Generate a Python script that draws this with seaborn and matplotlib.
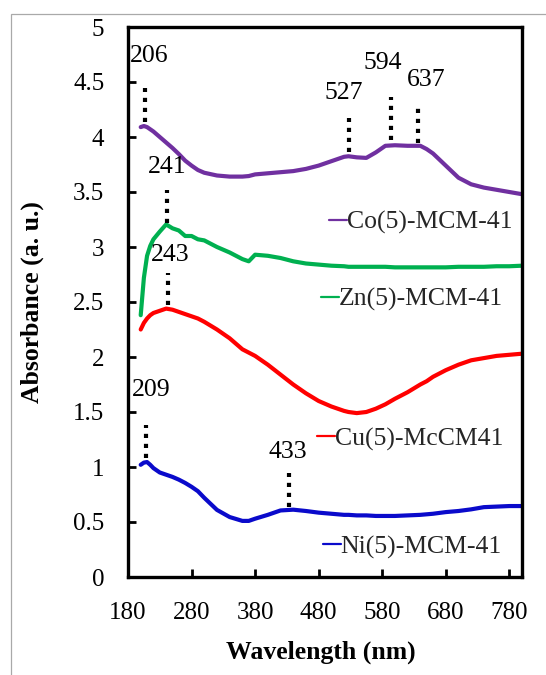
import matplotlib
matplotlib.use("Agg")
import matplotlib.pyplot as plt
from matplotlib.lines import Line2D
from matplotlib.legend import Legend
from matplotlib.patches import Rectangle
import pandas as pd
import seaborn as sns

# ---- data -------------------------------------------------------------
wavelength = [200, 205, 210, 215, 220, 230, 240, 250, 260, 270, 280, 290, 300,
              320, 340, 360, 370, 380, 400, 420, 440, 460, 480, 500, 520, 527,
              540, 555, 570, 585, 600, 620, 640, 650, 660, 680, 700, 720, 740,
              760, 780, 800]

co = [4.09, 4.10, 4.09, 4.07, 4.05, 4.00, 3.95, 3.90, 3.845, 3.785, 3.74, 3.70, 3.675,
      3.65, 3.64, 3.64, 3.645, 3.66, 3.67, 3.68, 3.69, 3.71, 3.74, 3.78, 3.82, 3.825,
      3.815, 3.81, 3.86, 3.92, 3.925, 3.92, 3.92, 3.89, 3.85, 3.74, 3.63, 3.57, 3.54,
      3.52, 3.50, 3.48]

zn = [2.38, 2.72, 2.92, 3.01, 3.07, 3.14, 3.205, 3.17, 3.15, 3.10, 3.10, 3.07, 3.06,
      3.00, 2.95, 2.89, 2.87, 2.93, 2.92, 2.90, 2.87, 2.85, 2.84, 2.83, 2.825, 2.82,
      2.82, 2.82, 2.82, 2.82, 2.815, 2.815, 2.815, 2.815, 2.815, 2.815, 2.82, 2.82, 2.82,
      2.825, 2.825, 2.83]

cu = [2.25, 2.31, 2.35, 2.38, 2.40, 2.42, 2.44, 2.43, 2.41, 2.39, 2.37, 2.35, 2.32,
      2.25, 2.17, 2.07, 2.04, 2.01, 1.93, 1.84, 1.75, 1.67, 1.60, 1.55, 1.51, 1.50,
      1.49, 1.50, 1.53, 1.57, 1.62, 1.68, 1.75, 1.78, 1.82, 1.88, 1.93, 1.97, 1.99,
      2.01, 2.02, 2.03]

ni = [1.02, 1.04, 1.045, 1.02, 0.99, 0.95, 0.93, 0.91, 0.885, 0.855, 0.82, 0.78, 0.72,
      0.61, 0.545, 0.51, 0.51, 0.53, 0.565, 0.605, 0.612, 0.60, 0.585, 0.575, 0.565, 0.565,
      0.56, 0.56, 0.555, 0.555, 0.555, 0.56, 0.565, 0.57, 0.575, 0.59, 0.60, 0.615, 0.635,
      0.64, 0.645, 0.645]

samples = ["Co(5)-MCM-41", "Zn(5)-MCM-41", "Cu(5)-McCM41", "Ni(5)-MCM-41"]
colors = ["#7030A0", "#00B050", "#FF0000", "#0A0ACB"]

# peak positions (nm) marked with dotted lines
peak_nm = [206, 527, 594, 637, 241, 243, 209, 433]

xticks = [180, 280, 380, 480, 580, 680, 780]
yticks = [0, 0.5, 1, 1.5, 2, 2.5, 3, 3.5, 4, 4.5, 5]

# ---- layout of peak markers: (line top, line bottom, label y, label x shift)
peak_layout = [
    (4.45, 4.14, 4.74, 7),
    (4.17, 3.86, 4.40, -8),
    (4.36, 3.97, 4.67, -13),
    (4.26, 3.95, 4.52, 13),
    (3.52, 3.22, 3.73, 0),
    (2.76, 2.47, 2.93, 3),
    (1.38, 1.08, 1.70, 8),
    (0.95, 0.64, 1.14, -2),
]

# series key positions (axes fraction of the right edge of the text, centre y)
key_pos = [(0.977, 0.645), (0.952, 0.505), (0.952, 0.251), (0.949, 0.0545)]

# ---- figure ------------------------------------------------------------
sns.set_theme(style="ticks")
plt.rcParams["font.family"] = ["Liberation Serif", "DejaVu Serif"]

W, H = 546, 675
fig = plt.figure(figsize=(W / 100, H / 100), dpi=100)
fig.patch.set_facecolor("white")
ax = fig.add_axes([128 / W, 98 / H, 394 / W, 550 / H])

# thin grey frame around the chart area
fig.patches.append(Rectangle((10.5 / W, -0.05), 1.2, (H - 13.5) / H + 0.05,
                             transform=fig.transFigure, fill=False,
                             edgecolor="#a9a9a9", lw=0.9, zorder=0))

df = pd.concat([
    pd.DataFrame({"wavelength": wavelength, "absorbance": vals, "sample": name})
    for name, vals in zip(samples, [co, zn, cu, ni])
], ignore_index=True)

sns.lineplot(data=df, x="wavelength", y="absorbance", hue="sample",
             hue_order=samples, palette=dict(zip(samples, colors)),
             linewidth=3.0, legend=False, sort=False, estimator=None, ax=ax)

for line in ax.get_lines():
    line.set_solid_capstyle("round")
    line.set_solid_joinstyle("round")

# dotted peak markers and their labels
for nm, (ytop, ybot, ylab, dx) in zip(peak_nm, peak_layout):
    ax.vlines(nm, ybot, ytop, colors="black", linewidth=3.0,
              linestyles=(0, (1.0, 1.4)), zorder=3)
    ax.text(nm + dx, ylab, str(nm), ha="center", va="center",
            fontsize=18.5, color="black")

# one key per series, placed next to its curve
for name, col, (kx, ky) in zip(samples, colors, key_pos):
    handle = Line2D([], [], color=col, lw=1.6)
    leg = Legend(ax, [handle], [name], loc="center right",
                 bbox_to_anchor=(kx, ky), frameon=False, fontsize=18.5,
                 handlelength=0.7, handletextpad=0.0, borderpad=0,
                 borderaxespad=0)
    ax.add_artist(leg)

ax.set_xlim(180, 800)
ax.set_ylim(0, 5)
ax.set_xticks(xticks)
ax.set_yticks(yticks)
ax.set_xticklabels([str(t) for t in xticks])
ax.set_yticklabels([f"{t:g}" for t in yticks])

for side in ["left", "right", "top", "bottom"]:
    ax.spines[side].set_visible(True)
    ax.spines[side].set_color("black")
    ax.spines[side].set_linewidth(2.4)

ax.tick_params(axis="both", which="major", direction="in", length=6, width=2,
               color="black", labelcolor="black", labelsize=18,
               left=True, bottom=True, right=False, top=False)
ax.tick_params(axis="y", pad=17)
ax.tick_params(axis="x", pad=18)

ax.set_xlabel("Wavelength (nm)", fontsize=18.5, fontweight="bold", color="black")
ax.set_ylabel("Absorbance (a. u.)", fontsize=18.5, fontweight="bold", color="black")
ax.xaxis.set_label_coords(0.49, -0.115)
ax.yaxis.set_label_coords(-0.212, 0.5)
ax.grid(False)

fig.savefig("out.png", dpi=100, facecolor="white")
